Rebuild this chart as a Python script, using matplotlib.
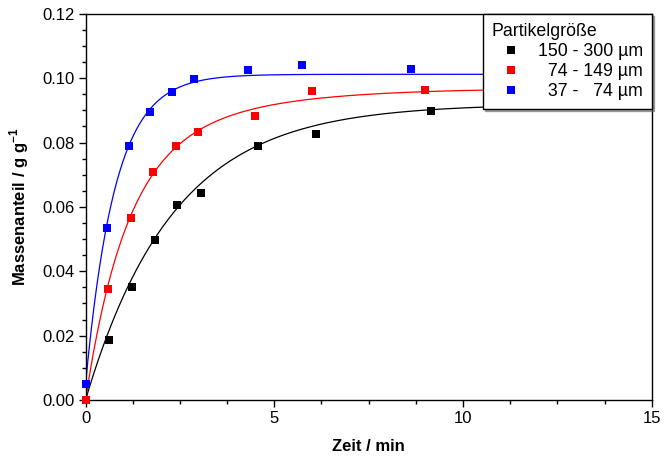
import numpy as np
import matplotlib
matplotlib.use("Agg")
import matplotlib.pyplot as plt
from matplotlib.ticker import MultipleLocator, FormatStrFormatter

plt.rcParams['font.family'] = ['Liberation Sans', 'DejaVu Sans']
plt.rcParams['mathtext.fontset'] = 'custom'
plt.rcParams['mathtext.rm'] = 'Liberation Sans'
plt.rcParams['mathtext.bf'] = 'Liberation Sans:bold'

# ---- data ----
t_black = [0, 0.615, 1.224, 1.841, 2.432, 3.05, 4.58, 6.10, 9.15]
y_black = [0, 0.0187, 0.0350, 0.0498, 0.0607, 0.0642, 0.0788, 0.0828, 0.0898]

t_red = [0, 0.604, 1.197, 1.796, 2.397, 2.988, 4.49, 5.99, 8.99]
y_red = [0, 0.0345, 0.0564, 0.0708, 0.0788, 0.0832, 0.0883, 0.0960, 0.0964]

t_blue = [0, 0.577, 1.144, 1.717, 2.30, 2.874, 4.305, 5.735, 8.61]
y_blue = [0.0049, 0.0533, 0.0789, 0.0896, 0.0956, 0.0996, 0.1026, 0.1040, 0.1030]

labels = ["150 - 300 µm", "\u200774 - 149 µm", "\u200737 - \u200774 µm"]
colors = ["#000000", "#ff0000", "#0000ff"]

# fitted model parameters: y = y0 + A1(1-exp(-k1 t)) + A2(1-exp(-k2 t))
fit_black = (0.0, 0.092, 0.43, 0.0, 0.0)
fit_red = (0.0, 0.072, 0.95, 0.025, 0.34)
fit_blue = (0.0049, 0.0963, 1.28, 0.0, 0.0)


def model(t, p):
    y0, a1, k1, a2, k2 = p
    return y0 + a1 * (1 - np.exp(-k1 * t)) + a2 * (1 - np.exp(-k2 * t))


fig = plt.figure(figsize=(6.64, 4.58), dpi=100)
ax = fig.add_axes([0.1288, 0.1266, 0.8527, 0.8433])

tt = np.linspace(0, 15, 400)
series = [(t_black, y_black, fit_black), (t_red, y_red, fit_red), (t_blue, y_blue, fit_blue)]
for (t, y, p), c, lab in zip(series, colors, labels):
    ax.plot(tt, model(tt, p), color=c, lw=0.9, zorder=2)
for (t, y, p), c, lab in zip(series, colors, labels):
    ax.plot(t, y, linestyle='none', marker='s', markersize=6, color=c,
            markeredgewidth=0, label=lab, zorder=3, clip_on=False)

ax.set_xlim(0, 15)
ax.set_ylim(0, 0.12)
ax.xaxis.set_major_locator(MultipleLocator(5))
ax.xaxis.set_minor_locator(MultipleLocator(1.25))
ax.yaxis.set_major_locator(MultipleLocator(0.02))
ax.yaxis.set_minor_locator(MultipleLocator(0.005))
ax.yaxis.set_major_formatter(FormatStrFormatter('%.2f'))
ax.tick_params(which='major', direction='out', length=5, width=1.0,
               labelsize=12, pad=3, top=False, right=False)
ax.tick_params(which='minor', direction='out', length=3, width=1.0,
               top=False, right=False)
for s in ax.spines.values():
    s.set_linewidth(1.0)

ax.set_xlabel('Zeit / min', fontsize=12, fontweight='bold', labelpad=9)
ax.set_ylabel(r'Massenanteil / g g$^{\mathbf{-1}}$', fontsize=12,
              fontweight='bold', labelpad=8)

leg = ax.legend(title='Partikelgröße', loc='upper right', fontsize=12.8,
                title_fontsize=12.8, frameon=True, fancybox=False,
                edgecolor='black', framealpha=1, borderaxespad=0,
                handletextpad=0.35, handlelength=2.25, borderpad=0.5,
                labelspacing=0.18,
                shadow={'color': '0.35', 'ox': 1.5, 'oy': -1.5})
leg.get_frame().set_linewidth(1.0)
leg._legend_box.align = 'left'

fig.savefig('out.png', dpi=100)
